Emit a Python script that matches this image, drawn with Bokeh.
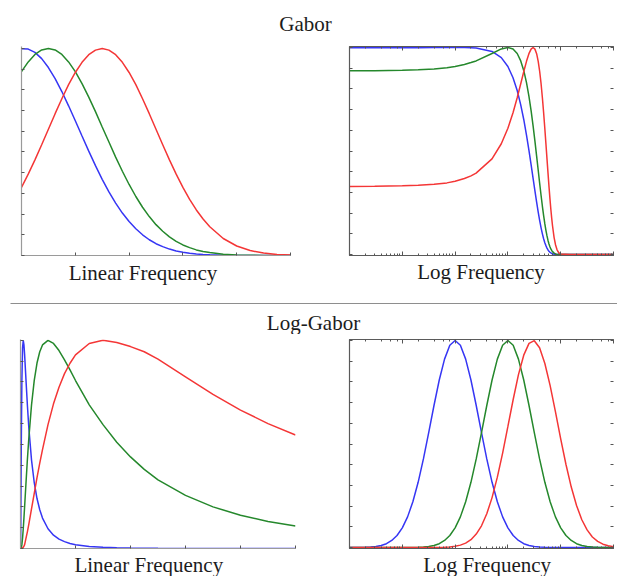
from bokeh.plotting import figure
from bokeh.layouts import column, row
from bokeh.models import (Range1d, LinearAxis, LogAxis, FixedTicker, LogTicker,
                          CustomLabelingPolicy)
from bokeh.embed import file_html
from bokeh.resources import INLINE
from bokeh.core.properties import value

# ---------------- data ----------------
section_titles = ["Gabor", "Log-Gabor"]
axis_titles = ["Linear Frequency", "Log Frequency"]

# Gabor, linear frequency axis
gabor_freq = [0.0, 0.025, 0.05, 0.075, 0.1, 0.125, 0.15, 0.175, 0.2, 0.225, 0.25, 0.275,
              0.3, 0.325, 0.35, 0.375, 0.4, 0.425, 0.45, 0.475, 0.5, 0.525, 0.55, 0.575,
              0.6, 0.625, 0.65, 0.675, 0.7, 0.75, 0.8, 0.85, 0.9, 0.95, 1.0]
gabor_blue = [0.999, 0.997, 0.981, 0.951, 0.908, 0.854, 0.792, 0.723, 0.651, 0.577, 0.504, 0.434,
              0.368, 0.307, 0.253, 0.205, 0.164, 0.129, 0.100, 0.076, 0.057, 0.043, 0.031, 0.022,
              0.016, 0.011, 0.0077, 0.0052, 0.0035, 0.0015, 0.0006, 0.0002, 0.0001, 0.0, 0.0]
gabor_green = [0.888, 0.935, 0.971, 0.993, 1.0, 0.993, 0.971, 0.935, 0.888, 0.830, 0.765, 0.695,
               0.621, 0.548, 0.475, 0.407, 0.343, 0.285, 0.233, 0.188, 0.149, 0.117, 0.090, 0.068,
               0.051, 0.038, 0.027, 0.0196, 0.014, 0.0066, 0.0029, 0.0012, 0.0005, 0.0002, 0.0001]
gabor_red = [0.329, 0.393, 0.462, 0.535, 0.610, 0.685, 0.757, 0.825, 0.884, 0.933, 0.970, 0.992,
             1.0, 0.992, 0.970, 0.933, 0.884, 0.825, 0.757, 0.685, 0.610, 0.535, 0.462, 0.393,
             0.329, 0.271, 0.220, 0.176, 0.139, 0.082, 0.046, 0.024, 0.0117, 0.0054, 0.0024]

# Gabor, extra samples for the log frequency axis
gabor_low_freq = [1e-4, 3e-4, 1e-3, 2e-3, 4e-3, 7e-3, 0.01, 0.015, 0.02]
gabor_low_blue = [0.999, 0.999, 0.999, 0.999, 1.0, 1.0, 1.0, 1.0, 0.999]
gabor_low_green = [0.888, 0.888, 0.890, 0.892, 0.896, 0.902, 0.908, 0.918, 0.927]
gabor_low_red = [0.329, 0.330, 0.332, 0.334, 0.339, 0.346, 0.354, 0.367, 0.380]
gabor_high_freq = [1.5, 3.0, 10.0]
gabor_high_blue = [0.0, 0.0, 0.0]
gabor_high_green = [0.0, 0.0, 0.0]
gabor_high_red = [0.0, 0.0, 0.0]

# Log-Gabor, linear frequency axis
lg_freq = [0.0, 0.001, 0.002, 0.003, 0.005, 0.0075, 0.01, 0.0125, 0.015, 0.02, 0.025, 0.03,
           0.04, 0.05, 0.06, 0.07, 0.08, 0.1, 0.12, 0.14, 0.16, 0.18, 0.2, 0.25, 0.3, 0.35,
           0.4, 0.45, 0.5, 0.6, 0.7, 0.8, 0.9, 1.0]
lg_blue = [0.0, 0.095, 0.316, 0.525, 0.808, 0.964, 1.0, 0.978, 0.930, 0.808, 0.689, 0.585,
           0.426, 0.316, 0.240, 0.186, 0.146, 0.095, 0.064, 0.045, 0.033, 0.024, 0.0185, 0.010,
           0.0059, 0.0036, 0.0024, 0.0016, 0.0011, 0.0006, 0.0003, 0.0002, 0.0001, 0.0001]
lg_green = [0.0, 0.0001, 0.0011, 0.0042, 0.0186, 0.051, 0.095, 0.146, 0.202, 0.316, 0.426, 0.525,
            0.689, 0.808, 0.891, 0.945, 0.978, 1.0, 0.985, 0.951, 0.906, 0.858, 0.807, 0.690,
            0.595, 0.510, 0.440, 0.380, 0.330, 0.255, 0.200, 0.160, 0.130, 0.108]
lg_red = [0.0, 0.0, 0.0, 0.0001, 0.0006, 0.0024, 0.0059, 0.0112, 0.0185, 0.050, 0.080, 0.115,
          0.190, 0.265, 0.340, 0.410, 0.475, 0.595, 0.695, 0.775, 0.840, 0.890, 0.930, 0.985,
          1.0, 0.990, 0.970, 0.945, 0.910, 0.825, 0.740, 0.665, 0.600, 0.545]

# Log-Gabor, log frequency axis (frequency = 10 ** exponent)
lg_log_exponent = [-4.0, -3.9, -3.8, -3.7, -3.6, -3.5, -3.4, -3.3, -3.2, -3.1, -3.0, -2.9, -2.8,
                   -2.7, -2.6, -2.5, -2.4, -2.3, -2.2, -2.1, -2.0, -1.9, -1.8, -1.7, -1.6, -1.5,
                   -1.4, -1.3, -1.2, -1.1, -1.0, -0.9, -0.8, -0.7, -0.6, -0.5, -0.4, -0.3, -0.2,
                   -0.1, 0.0, 0.1, 0.2, 0.3, 0.4, 0.5, 0.6, 0.7, 0.8, 0.9, 1.0]
lg_log_blue = [0.0001, 0.0002, 0.0005, 0.0011, 0.0024, 0.005, 0.0099, 0.0186, 0.034, 0.058, 0.095,
               0.148, 0.221, 0.315, 0.428, 0.555, 0.686, 0.809, 0.910, 0.977, 1.0, 0.977, 0.910,
               0.809, 0.686, 0.555, 0.428, 0.315, 0.221, 0.148, 0.095, 0.058, 0.034, 0.0186,
               0.0099, 0.005, 0.0024, 0.0011, 0.0005, 0.0002, 0.0001,
               0.0, 0.0, 0.0, 0.0, 0.0, 0.0, 0.0, 0.0, 0.0, 0.0]
lg_log_green = [0.0, 0.0, 0.0, 0.0, 0.0, 0.0, 0.0, 0.0, 0.0, 0.0,
                0.0001, 0.0002, 0.0005, 0.0011, 0.0024, 0.005, 0.0099, 0.0186, 0.034, 0.058, 0.095,
                0.148, 0.221, 0.315, 0.428, 0.555, 0.686, 0.809, 0.910, 0.977, 1.0, 0.977, 0.910,
                0.809, 0.686, 0.555, 0.428, 0.315, 0.221, 0.148, 0.095, 0.058, 0.034, 0.0186,
                0.0099, 0.005, 0.0024, 0.0011, 0.0005, 0.0002, 0.0001]
lg_log_red = [0.0, 0.0, 0.0, 0.0, 0.0, 0.0, 0.0, 0.0, 0.0, 0.0, 0.0, 0.0, 0.0, 0.0, 0.0,
              0.0001, 0.0002, 0.0006, 0.0013, 0.0029, 0.0059, 0.0115, 0.0214, 0.038, 0.065, 0.105,
              0.163, 0.241, 0.340, 0.456, 0.585, 0.715, 0.835, 0.929, 0.986, 0.999, 0.965, 0.889,
              0.782, 0.656, 0.525, 0.401, 0.292, 0.203, 0.134, 0.085, 0.051, 0.0295, 0.0162,
              0.0085, 0.0042]

lin_xticks = [0.0, 0.2, 0.4, 0.6, 0.8, 1.0]
lin_yticks = [0.0, 0.1, 0.2, 0.3, 0.4, 0.5, 0.6, 0.7, 0.8, 0.9, 1.0]

# ---------------- styling ----------------
BLUE, GREEN, RED = "#3636f4", "#25882c", "#f43636"
LW = 1.5
FONT = value("Liberation Serif")
FSIZE = value("21px")
TXT = "#1c1c1c"
W = 617


def base_panel(w, h, left, right, top, bottom, xr, yr, log_x):
    p = figure(width=w, height=h, x_range=xr, y_range=yr,
               x_axis_type="log" if log_x else "linear",
               output_backend="svg", toolbar_location=None,
               min_border_left=left, min_border_right=right,
               min_border_top=top, min_border_bottom=bottom)
    p.grid.visible = False
    p.outline_line_color = None
    p.background_fill_color = None
    p.border_fill_color = None
    return p


def style_axis(ax, line_color, tick_color, major_in, minor_in=0):
    ax.axis_line_color = line_color
    ax.axis_line_width = 1.2
    ax.major_tick_in = major_in
    ax.major_tick_out = 0
    ax.minor_tick_in = minor_in
    ax.minor_tick_out = 0
    ax.major_tick_line_color = tick_color
    ax.minor_tick_line_color = tick_color
    ax.major_tick_line_width = 1
    ax.minor_tick_line_width = 1
    ax.major_label_text_font_size = "1px"
    ax.major_label_standoff = 0
    ax.major_label_policy = CustomLabelingPolicy(code="for (const i of indices) indices.unset(i)")
    ax.axis_label = None


def linear_panel(w, h, left, right, top, bottom, yr):
    p = base_panel(w, h, left, right, top, bottom, Range1d(0, 1), yr, False)
    p.xaxis[0].ticker = FixedTicker(ticks=lin_xticks)
    p.yaxis[0].ticker = FixedTicker(ticks=lin_yticks)
    for ax in (p.xaxis[0], p.yaxis[0]):
        style_axis(ax, "#9a9a9a", "#555555", 3)
    return p


def log_panel(w, h, left, right, top, bottom, yr):
    p = base_panel(w, h, left, right, top, bottom, Range1d(1e-4, 10), yr, True)
    p.add_layout(LogAxis(ticker=LogTicker()), "above")
    p.add_layout(LinearAxis(ticker=FixedTicker(ticks=lin_yticks)), "right")
    p.yaxis[0].ticker = FixedTicker(ticks=lin_yticks)
    for ax in p.xaxis:
        style_axis(ax, "#5a5a5a", "#555555", 4, 2)
    for ax in p.yaxis:
        style_axis(ax, "#5a5a5a", "#555555", 3)
    p.yaxis[1].axis_line_color = None
    return p


def text_fig(w, h):
    p = figure(width=w, height=h, x_range=Range1d(0, w), y_range=Range1d(0, h),
               x_axis_type=None, y_axis_type=None, output_backend="svg",
               toolbar_location=None, min_border=0)
    p.outline_line_color = None
    p.background_fill_color = None
    p.border_fill_color = None
    return p


def put_text(p, x, y, s):
    p.text(x=[x], y=[y], text=[s], text_align="center", text_baseline="alphabetic",
           text_font=FONT, text_font_size=FSIZE, text_color=TXT)


# ---------------- Gabor row ----------------
tl = linear_panel(320, 220, 21, 30, 6, 1, Range1d(0, 1.0095))
tl.line(gabor_freq, gabor_blue, line_color=BLUE, line_width=LW)
tl.line(gabor_freq, gabor_green, line_color=GREEN, line_width=LW)
tl.line(gabor_freq, gabor_red, line_color=RED, line_width=LW)

tr = log_panel(297, 220, 29, 2, 3, 2, Range1d(-1 / 213, 1 + 1 / 213))
g_log_x = gabor_low_freq + gabor_freq[1:] + gabor_high_freq
tr.line(g_log_x, gabor_low_blue + gabor_blue[1:] + gabor_high_blue, line_color=BLUE, line_width=LW)
tr.line(g_log_x, gabor_low_green + gabor_green[1:] + gabor_high_green, line_color=GREEN, line_width=LW)
tr.line(g_log_x, gabor_low_red + gabor_red[1:] + gabor_high_red, line_color=RED, line_width=LW)

# ---------------- Log-Gabor row ----------------
bl = linear_panel(320, 219, 20, 25, 0, 3, Range1d(0, 1.004))
bl.line(lg_freq, lg_blue, line_color=BLUE, line_width=LW)
bl.line(lg_freq, lg_green, line_color=GREEN, line_width=LW)
bl.line(lg_freq, lg_red, line_color=RED, line_width=LW)

br = log_panel(297, 219, 29, 2, 4, 2, Range1d(-1 / 211, 1 + 1 / 211))
lg_log_freq = [10 ** e for e in lg_log_exponent]
br.line(lg_log_freq, lg_log_blue, line_color=BLUE, line_width=LW)
br.line(lg_log_freq, lg_log_green, line_color=GREEN, line_width=LW)
br.line(lg_log_freq, lg_log_red, line_color=RED, line_width=LW)

# ---------------- texts ----------------
top_text = text_fig(W, 40)
put_text(top_text, 305, 17, section_titles[0])

mid_text = text_fig(W, 74)
put_text(mid_text, 142.5, 62, axis_titles[0])
put_text(mid_text, 480.5, 62.3, axis_titles[1])
mid_text.segment(x0=[10], y0=[31], x1=[W], y1=[31], line_color="#8e8e8e", line_width=1.2)
put_text(mid_text, 313, 12, section_titles[1])

bottom_text = text_fig(W, 23)
put_text(bottom_text, 148.3, 11.8, axis_titles[0])
put_text(bottom_text, 486.7, 12, axis_titles[1])

layout = column(top_text, row(tl, tr), mid_text, row(bl, br), bottom_text)

open("out.html", "w").write(file_html(layout, INLINE))
